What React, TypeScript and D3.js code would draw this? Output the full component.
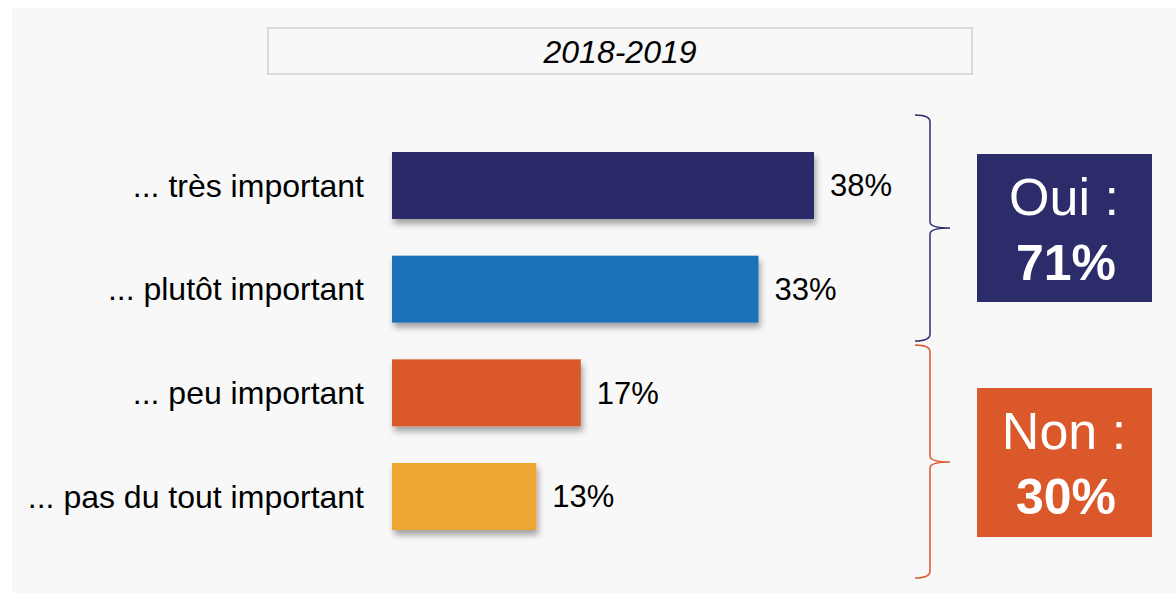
import React from "react";
import * as d3 from "d3";

const title = "2018-2019";
const categories = [
  "... très important",
  "... plutôt important",
  "... peu important",
  "... pas du tout important",
];
const values = [38, 33, 17, 13];
const barColors = ["#2c2c6b", "#1d72b8", "#da5829", "#eea630"];
const groupLabels = ["Oui :", "Non :"];
const groupTotals = ["71%", "30%"];
const groupColors = ["#2c2c6b", "#da5829"];

const W = 1176;
const H = 593;
const FONT = "'Liberation Sans', Arial, Helvetica, sans-serif";

export default function App() {
  const x = d3.scaleLinear().domain([0, 38]).range([392, 814]);
  const y = d3
    .scaleBand<string>()
    .domain(categories)
    .range([133.65, 548.35])
    .paddingInner(0.354)
    .paddingOuter(0.177);

  const braceX = 930;
  const braces = [
    { top: 115, tip: 228, bottom: 341 },
    { top: 345, tip: 462, bottom: 578 },
  ];
  const boxes = [
    { y0: 154, y1: 302 },
    { y0: 388, y1: 537 },
  ];
  const bracePath = (b: { top: number; tip: number; bottom: number }) => {
    const p = d3.path();
    p.moveTo(915, b.top);
    p.quadraticCurveTo(braceX, b.top, braceX, b.top + 7);
    p.lineTo(braceX, b.tip - 6);
    p.quadraticCurveTo(braceX, b.tip, braceX + 20, b.tip);
    p.quadraticCurveTo(braceX, b.tip, braceX, b.tip + 6);
    p.lineTo(braceX, b.bottom - 7);
    p.quadraticCurveTo(braceX, b.bottom, 915, b.bottom);
    return p.toString();
  };

  return (
    <svg
      width={W}
      height={H}
      style={{ position: "absolute", left: 0, top: 0, display: "block" }}
      fontFamily={FONT}
    >
      <defs>
        <filter id="shadow" x="-10%" y="-30%" width="130%" height="180%">
          <feDropShadow dx="2" dy="5" stdDeviation="3" floodColor="#000" floodOpacity="0.35" />
        </filter>
      </defs>
      <rect x={0} y={0} width={W} height={H} fill="#ffffff" />
      <rect x={12} y={8} width={W - 12} height={H - 8} fill="#f8f8f8" />

      <rect x={268} y={28} width={704} height={46} fill="#f8f8f8" stroke="#d9d9d9" strokeWidth={2} />
      <text x={620} y={63} textAnchor="middle" fontSize={32} fontStyle="italic" fill="#000">
        {title}
      </text>

      {categories.map((c, i) => {
        const yy = y(c)!;
        const cy = yy + y.bandwidth() / 2;
        return (
          <g key={c}>
            <rect
              x={x(0)}
              y={yy}
              width={x(values[i]) - x(0)}
              height={y.bandwidth()}
              fill={barColors[i]}
              filter="url(#shadow)"
            />
            <text x={364} y={cy} dy="0.35em" textAnchor="end" fontSize={32} fill="#000">
              {c}
            </text>
            <text x={x(values[i]) + 16} y={cy} dy="0.35em" fontSize={31} fill="#000">
              {values[i]}%
            </text>
          </g>
        );
      })}

      {braces.map((b, i) => (
        <path key={"b" + i} d={bracePath(b)} fill="none" stroke={groupColors[i]} strokeWidth={1.5} />
      ))}

      {boxes.map((bx, i) => (
        <g key={"box" + i}>
          <rect x={977} y={bx.y0} width={175} height={bx.y1 - bx.y0} fill={groupColors[i]} />
          <text x={1064} y={bx.y0 + 61} textAnchor="middle" fontSize={52} fill="#fff">
            {groupLabels[i]}
          </text>
          <text x={1066} y={bx.y0 + 126} textAnchor="middle" fontSize={50} fontWeight="bold" fill="#fff">
            {groupTotals[i]}
          </text>
        </g>
      ))}
    </svg>
  );
}
